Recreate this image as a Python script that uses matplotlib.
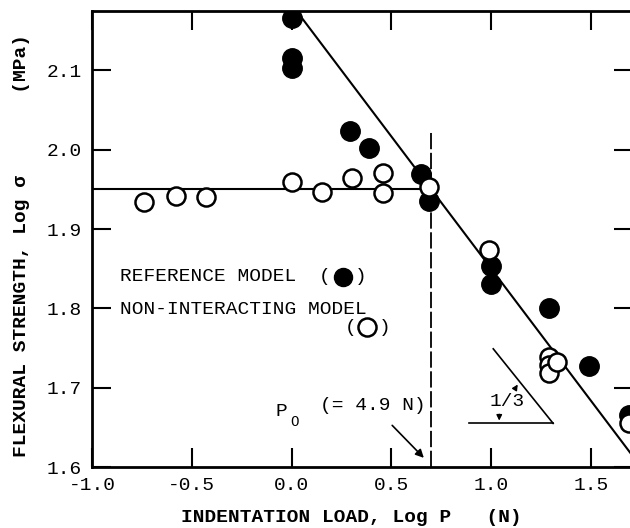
import numpy as np
import matplotlib.pyplot as plt

# reference model (filled)
ref_x = [0.0, 0.0, 0.0, 0.29, 0.39, 0.65, 0.69, 1.0, 1.0, 1.29, 1.49, 1.69]
ref_y = [2.166, 2.116, 2.103, 2.024, 2.002, 1.970, 1.935, 1.854, 1.831, 1.800, 1.727, 1.666]

# non-interacting model (open)
non_x = [-0.74, -0.58, -0.43, 0.0, 0.15, 0.30, 0.46, 0.46, 0.69, 0.99, 1.29, 1.29, 1.29, 1.33, 1.69]
non_y = [1.934, 1.942, 1.941, 1.959, 1.947, 1.965, 1.971, 1.946, 1.953, 1.874, 1.739, 1.728, 1.719, 1.733, 1.655]

# fitted lines
flat_x = [-1.0, 0.7]
flat_y = [1.95, 1.95]
slope_x = [0.025, 1.71]
slope_y = [1.95 - (0.025 - 0.7) / 3, 1.95 - (1.71 - 0.7) / 3]
p0 = 0.7

xticks = [-1.0, -0.5, 0.0, 0.5, 1.0, 1.5]
yticks = [1.6, 1.7, 1.8, 1.9, 2.0, 2.1]

mono = 'Liberation Mono'

fig = plt.figure(figsize=(6.3, 5.28), dpi=100)
ax = fig.add_axes([92 / 630, 1 - 467 / 528, 541 / 630, 456 / 528])
ax.set_xlim(-1.0, 1.71)
ax.set_ylim(1.6, 2.175)

ax.plot(flat_x, flat_y, 'k-', lw=1.5, zorder=2)
ax.plot(slope_x, slope_y, 'k-', lw=1.5, zorder=2)
ax.plot([p0, p0], [1.6, 2.022], 'k', lw=1.3, dashes=(9, 2), zorder=1)

ax.plot(ref_x, ref_y, 'o', ms=14, mfc='black', mec='black', zorder=3)
ax.plot(non_x, non_y, 'o', ms=13, mfc='white', mec='black', mew=1.8, zorder=4)

# legend-like texts
ax.text(-0.86, 1.8396, 'REFERENCE MODEL', fontfamily=mono, fontsize=14, va='center')
ax.text(0.165, 1.8396, '(', fontfamily=mono, fontsize=14, ha='center', va='center')
ax.text(0.345, 1.8396, ')', fontfamily=mono, fontsize=14, ha='center', va='center')
ax.plot([0.258], [1.8396], 'o', ms=13, mfc='black', mec='black')
ax.text(-0.86, 1.798, 'NON-INTERACTING MODEL', fontfamily=mono, fontsize=14, va='center')
ax.text(0.295, 1.776, '(', fontfamily=mono, fontsize=14, ha='center', va='center')
ax.text(0.465, 1.776, ')', fontfamily=mono, fontsize=14, ha='center', va='center')
ax.plot([0.378], [1.776], 'o', ms=13, mfc='white', mec='black', mew=1.8)

# P0 annotation
ax.text(-0.05, 1.670, 'P', fontfamily=mono, fontsize=14, ha='center', va='center')
ax.text(0.012, 1.657, 'O', fontfamily=mono, fontsize=10, ha='center', va='center')
ax.text(0.14, 1.677, '(= 4.9 N)', fontfamily=mono, fontsize=14, va='center')
ax.annotate('', xy=(0.672, 1.609), xytext=(0.494, 1.655),
            arrowprops=dict(arrowstyle='-|>', lw=1.2, color='black', mutation_scale=12))

# slope triangle
ax.plot([0.89, 1.31], [1.655, 1.655], 'k-', lw=1.2)
ax.plot([1.01, 1.31], [1.749, 1.655], 'k-', lw=1.2)
ax.text(1.08, 1.682, '1/3', fontfamily=mono, fontsize=14, ha='center', va='center')
ax.annotate('', xy=(1.04, 1.655), xytext=(1.04, 1.670),
            arrowprops=dict(arrowstyle='-|>', lw=1.0, color='black', mutation_scale=8))
ax.annotate('', xy=(1.14, 1.707), xytext=(1.11, 1.695),
            arrowprops=dict(arrowstyle='-|>', lw=1.0, color='black', mutation_scale=8))

ax.set_xticks(xticks)
ax.set_xticklabels(['-1.0', '-0.5', '0.0', '0.5', '1.0', '1.5'])
ax.set_yticks(yticks)
ax.set_yticklabels(['1.6', '1.7', '1.8', '1.9', '2.0', '2.1'])
ax.tick_params(direction='in', length=14, width=1.5, top=True, right=True, pad=7)
for lab in ax.get_xticklabels() + ax.get_yticklabels():
    lab.set_fontfamily(mono)
    lab.set_fontsize(14)
for s in ax.spines.values():
    s.set_linewidth(2)

fig.text(22 / 630, 1 - 246 / 528, 'FLEXURAL STRENGTH, Log \u03c3       (MPa)', rotation=90,
         fontfamily=mono, fontweight='bold', fontsize=14, ha='center', va='center')
fig.text(351 / 630, 1 - 518 / 528, 'INDENTATION LOAD, Log P   (N)',
         fontfamily=mono, fontweight='bold', fontsize=14, ha='center', va='center')

fig.savefig('out.png', dpi=100)
